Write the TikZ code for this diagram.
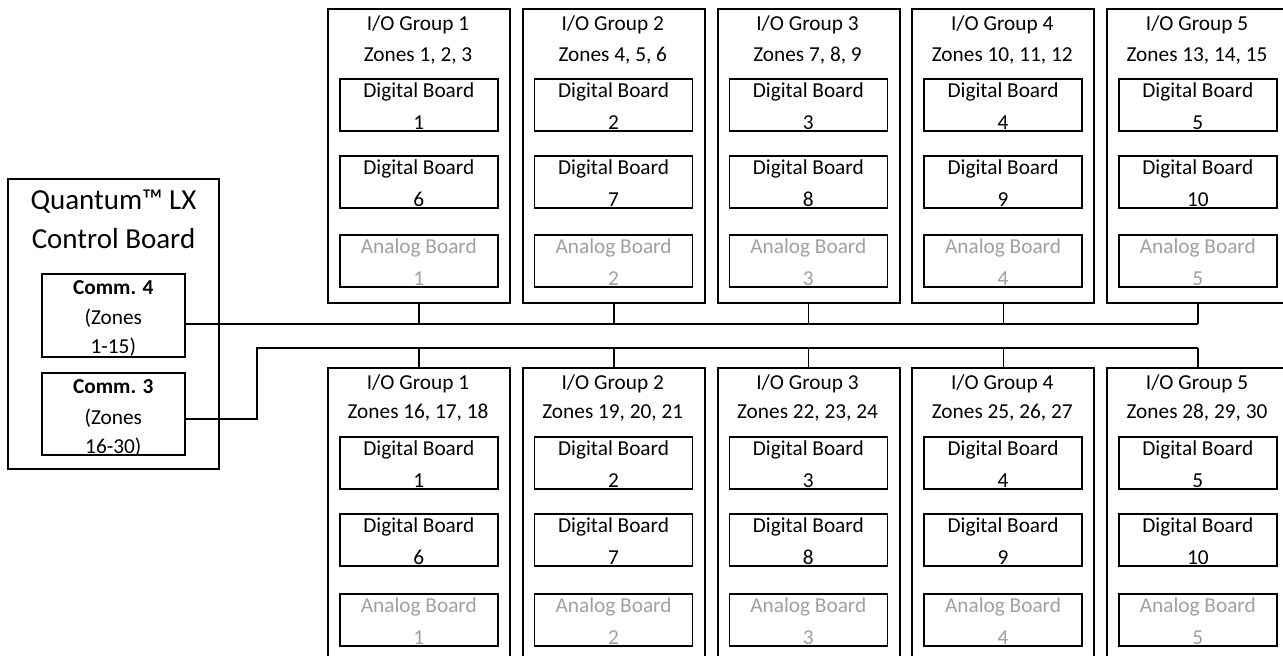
\documentclass[tikz,border=0pt]{standalone}
\usepackage{fontspec}
\setmainfont{Carlito}
\usetikzlibrary{calc}
\definecolor{anagray}{RGB}{160,160,160}
\begin{document}
\begin{tikzpicture}[x=1pt,y=-1pt,
  grp/.style={draw,line width=2.2pt,rectangle,inner sep=0pt,anchor=north west,minimum width=182pt},
  board/.style={draw,line width=1.6pt,rectangle,inner sep=0pt,anchor=north west,minimum width=158pt,minimum height=52pt},
  txt/.style={anchor=base,inner sep=0pt,font=\fontsize{21.3}{25}\selectfont},
  gtxt/.style={txt,text=anagray},
  btxt/.style={txt,font=\fontsize{21.3}{25}\selectfont\bfseries},
  bigtxt/.style={anchor=base,inner sep=0pt,font=\fontsize{29}{34}\selectfont},
  wire/.style={line width=1.5pt}]
\useasboundingbox (0,0) rectangle (1283,656);

% ---- I/O groups ----
\foreach \i in {1,...,5}{
  \pgfmathsetmacro\xl{327+194.75*(\i-1)}
  \pgfmathtruncatemacro\za{3*\i-2}
  \pgfmathtruncatemacro\zb{3*\i-1}
  \pgfmathtruncatemacro\zc{3*\i}
  \pgfmathtruncatemacro\zd{3*\i+13}
  \pgfmathtruncatemacro\ze{3*\i+14}
  \pgfmathtruncatemacro\zf{3*\i+15}
  \pgfmathtruncatemacro\dj{\i+5}
  % top group
  \node[grp,minimum height=294pt] (gt\i) at (\xl,8) {};
  \node[txt] (gt\i t1) at ($(gt\i.north west)+(91,22)$) {I/O Group \i};
  \node[txt] (gt\i t2) at ($(gt\i.north west)+(91,53)$) {Zones \za, \zb, \zc};
  \node[board] (gt\i d1) at ($(gt\i.north west)+(12,70)$) {};
  \node[txt] (gt\i d1a) at ($(gt\i d1.north)+(0,19)$) {Digital Board};
  \node[txt] (gt\i d1b) at ($(gt\i d1.north)+(0,51)$) {\i};
  \node[board] (gt\i d2) at ($(gt\i.north west)+(12,147)$) {};
  \node[txt] (gt\i d2a) at ($(gt\i d2.north)+(0,19)$) {Digital Board};
  \node[txt] (gt\i d2b) at ($(gt\i d2.north)+(0,51)$) {\dj};
  \node[board] (gt\i a1) at ($(gt\i.north west)+(12,226)$) {};
  \node[gtxt] (gt\i a1a) at ($(gt\i a1.north)+(0,19)$) {Analog Board};
  \node[gtxt] (gt\i a1b) at ($(gt\i a1.north)+(0,51)$) {\i};
  % bottom group
  \node[grp,minimum height=310pt] (gb\i) at (\xl,367) {};
  \node[txt] (gb\i t1) at ($(gb\i.north west)+(91,22)$) {I/O Group \i};
  \node[txt] (gb\i t2) at ($(gb\i.north west)+(91,51)$) {Zones \zd, \ze, \zf};
  \node[board] (gb\i d1) at ($(gb\i.north west)+(12,69)$) {};
  \node[txt] (gb\i d1a) at ($(gb\i d1.north)+(0,19)$) {Digital Board};
  \node[txt] (gb\i d1b) at ($(gb\i d1.north)+(0,51)$) {\i};
  \node[board] (gb\i d2) at ($(gb\i.north west)+(12,146)$) {};
  \node[txt] (gb\i d2a) at ($(gb\i d2.north)+(0,19)$) {Digital Board};
  \node[txt] (gb\i d2b) at ($(gb\i d2.north)+(0,51)$) {\dj};
  \node[board] (gb\i a1) at ($(gb\i.north west)+(12,226)$) {};
  \node[gtxt] (gb\i a1a) at ($(gb\i a1.north)+(0,19)$) {Analog Board};
  \node[gtxt] (gb\i a1b) at ($(gb\i a1.north)+(0,51)$) {\i};
}

% ---- control board ----
\node[draw,line width=2pt,rectangle,inner sep=0pt,anchor=north west,minimum width=211pt,minimum height=290pt] (ctl) at (7,178) {};
\node[bigtxt] (ctlt1) at ($(ctl.north)+(0,31)$) {Quantum™ LX};
\node[bigtxt] (ctlt2) at ($(ctl.north)+(0,70)$) {Control Board};
\node[draw,line width=1.6pt,rectangle,inner sep=0pt,anchor=north west,minimum width=143pt,minimum height=83pt] (comm4) at (41,273) {};
\node[btxt] (c4a) at ($(comm4.north)+(0,21)$) {Comm. 4};
\node[txt] (c4b) at ($(comm4.north)+(0,51)$) {(Zones};
\node[txt] (c4c) at ($(comm4.north)+(0,80)$) {1-15)};
\node[draw,line width=1.6pt,rectangle,inner sep=0pt,anchor=north west,minimum width=143pt,minimum height=82pt] (comm3) at (41,372) {};
\node[btxt] (c3a) at ($(comm3.north)+(0,21)$) {Comm. 3};
\node[txt] (c3b) at ($(comm3.north)+(0,52)$) {(Zones};
\node[txt] (c3c) at ($(comm3.north)+(0,81)$) {16-30)};

% ---- wires ----
\path (gt5.south) ++(0,20) coordinate (tbusend);
\draw[wire] (comm4.east |- tbusend) -- (tbusend);
\foreach \i in {1,...,5}{
  \draw[wire] (gt\i.south) -- (gt\i.south |- tbusend);
}
\path (gb5.north) ++(0,-19) coordinate (bbusend);
\path (comm3.east) ++(0,5) coordinate (c3out);
\coordinate (bjog) at (257,348);
\draw[wire] (c3out) -| (bjog) -- (bbusend);
\foreach \i in {1,...,5}{
  \draw[wire] (gb\i.north) -- (gb\i.north |- bbusend);
}
\end{tikzpicture}
\end{document}
